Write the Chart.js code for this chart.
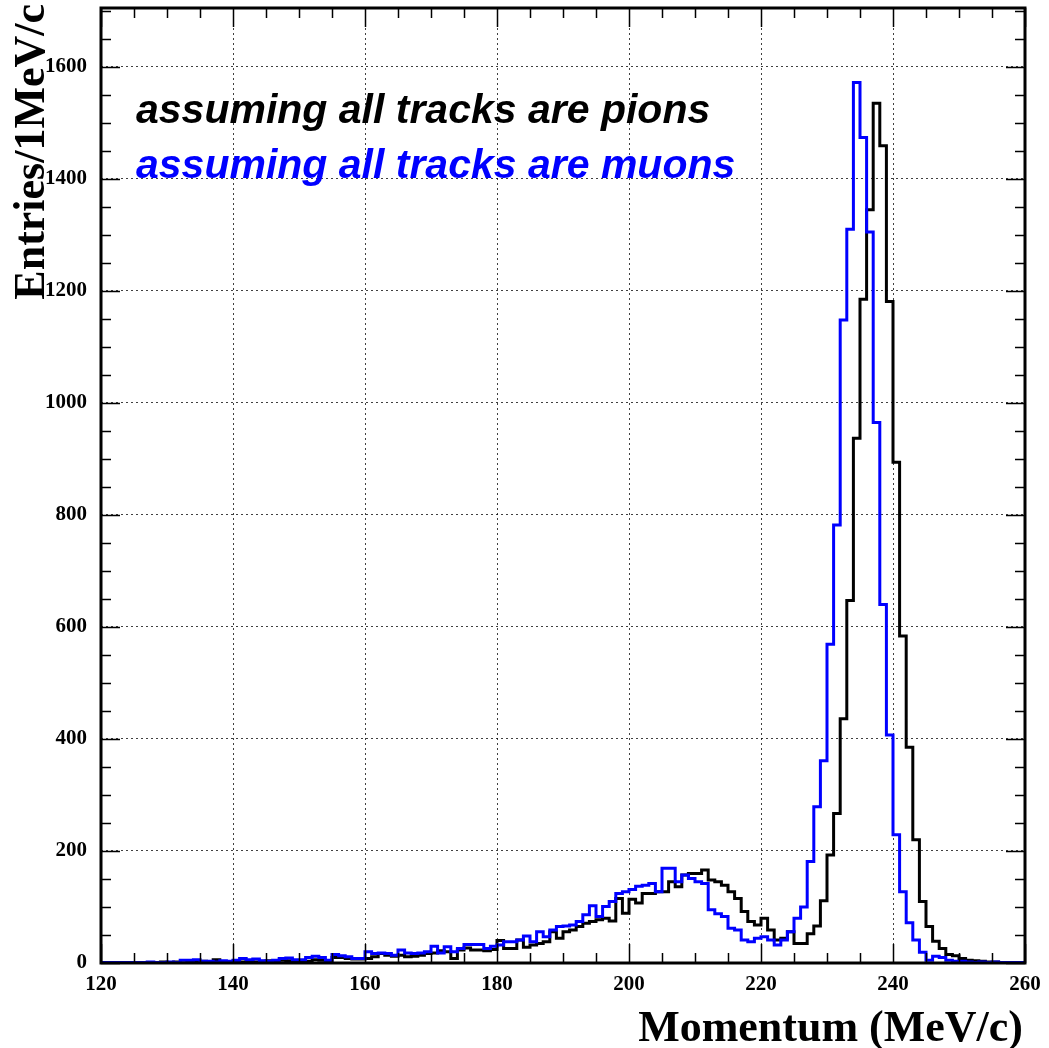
<!DOCTYPE html>
<html>
<head>
<meta charset="utf-8">
<script src="https://cdn.jsdelivr.net/npm/chart.js@4.4.1/dist/chart.umd.min.js"></script>
<style>
  html, body { margin: 0; padding: 0; background: #fff; }
</style>
</head>
<body>
<canvas id="myChart" width="1049" height="1048"></canvas>
<script>
// histogram binning (1 MeV/c bins)
const binLow = 120;
const binHigh = 260;

// tick labels
const xTicks = [120, 140, 160, 180, 200, 220, 240, 260];
const yTicks = [0, 200, 400, 600, 800, 1000, 1200, 1400, 1600];
const yMax = 1705;

const seriesLabels = ["assuming all tracks are pions", "assuming all tracks are muons"];

// entries per bin, 120..259
const pionCounts = [
  1, 1, 0, 1, 1, 1, 1, 1, 1, 2,
  1, 2, 0, 1, 2, 3, 2, 6, 2, 1,
  3, 2, 3, 2, 3, 4, 3, 5, 4, 2,
  3, 3, 6, 5, 4, 10, 10, 8, 7, 7,
  8, 11, 17, 14, 12, 14, 11, 12, 14, 17,
  18, 22, 20, 8, 23, 27, 23, 23, 22, 24,
  40, 26, 26, 41, 28, 32, 35, 38, 56, 44,
  56, 59, 65, 71, 74, 77, 80, 75, 115, 89,
  114, 107, 124, 124, 127, 127, 145, 136, 157, 160,
  160, 166, 148, 145, 139, 127, 115, 92, 74, 68,
  80, 59, 41, 44, 56, 35, 35, 52, 66, 111,
  193, 267, 436, 647, 937, 1185, 1345, 1535, 1459, 1181,
  894, 584, 385, 220, 110, 65, 39, 26, 15, 13,
  8, 5, 4, 3, 2, 2, 1, 1, 1, 1
];

const muonCounts = [
  1, 1, 1, 1, 1, 1, 1, 2, 1, 1,
  2, 1, 5, 5, 6, 3, 3, 2, 4, 3,
  5, 8, 6, 7, 4, 3, 5, 8, 9, 6,
  6, 10, 12, 10, 5, 15, 13, 11, 8, 8,
  20, 17, 18, 17, 14, 23, 18, 17, 18, 20,
  30, 18, 29, 20, 26, 33, 33, 33, 26, 30,
  32, 38, 38, 41, 48, 38, 56, 47, 59, 65,
  66, 68, 74, 86, 102, 83, 101, 110, 124, 127,
  131, 137, 139, 142, 127, 169, 169, 145, 157, 151,
  145, 142, 95, 88, 83, 62, 59, 41, 38, 44,
  47, 41, 32, 41, 56, 80, 100, 181, 279, 361,
  569, 782, 1148, 1310, 1572, 1474, 1305, 965, 640, 407,
  229, 127, 72, 41, 19, 5, 12, 10, 5, 3,
  3, 2, 1, 2, 1, 2, 1, 1, 1, 1
];

// step points at lower bin edges, closed at the upper edge
function toSteps(counts) {
  const pts = counts.map((c, i) => ({ x: binLow + i, y: c }));
  pts.push({ x: binHigh, y: counts[counts.length - 1] });
  return pts;
}

const serif = "'Liberation Serif', 'Times New Roman', serif";

// frame, inward ticks, axis titles and the two text labels
const rootFrame = {
  id: "rootFrame",
  afterDraw(chart) {
    const { ctx, chartArea: a, scales: { x, y } } = chart;
    ctx.save();
    ctx.strokeStyle = "#000";
    ctx.lineWidth = 1.5;
    ctx.beginPath();
    for (let v = 0; v <= yMax; v += 50) {
      const py = Math.round(y.getPixelForValue(v)) + 0.5;
      const len = v % 200 === 0 ? 19 : 10;
      ctx.moveTo(a.left, py); ctx.lineTo(a.left + len, py);
      ctx.moveTo(a.right, py); ctx.lineTo(a.right - len, py);
    }
    for (let v = binLow; v <= binHigh; v += 5) {
      const px = Math.round(x.getPixelForValue(v)) + 0.5;
      const len = v % 20 === 0 ? 19 : 10;
      ctx.moveTo(px, a.bottom); ctx.lineTo(px, a.bottom - len);
      ctx.moveTo(px, a.top); ctx.lineTo(px, a.top + len);
    }
    ctx.stroke();

    ctx.lineWidth = 3;
    ctx.strokeRect(a.left, a.top, a.right - a.left, a.bottom - a.top);

    ctx.fillStyle = "#000";
    ctx.font = "bold 44px " + serif;
    ctx.textAlign = "right";
    ctx.textBaseline = "alphabetic";
    ctx.fillText("Momentum (MeV/c)", 1023, 1041);

    ctx.save();
    ctx.translate(44, 4);
    ctx.rotate(-Math.PI / 2);
    ctx.fillText("Entries/1MeV/c", 0, 0);
    ctx.restore();

    ctx.textAlign = "left";
    ctx.font = "italic bold 41px 'Liberation Sans', Arial, sans-serif";
    ctx.fillStyle = "#000";
    ctx.fillText(seriesLabels[0], 136, 123);
    ctx.fillStyle = "#0000ff";
    ctx.fillText(seriesLabels[1], 136, 178);
    ctx.restore();
  }
};

const config = {
  type: "line",
  data: {
    datasets: [
      {
        label: seriesLabels[1],
        data: toSteps(muonCounts),
        borderColor: "#0000ff",
        order: 1
      },
      {
        label: seriesLabels[0],
        data: toSteps(pionCounts),
        borderColor: "#000000",
        order: 2
      }
    ]
  },
  options: {
    responsive: false,
    animation: false,
    layout: { padding: { top: 8, right: 24, left: 0, bottom: 0 } },
    elements: {
      line: { stepped: true, borderWidth: 3, fill: false, tension: 0, borderJoinStyle: "miter" },
      point: { radius: 0, hoverRadius: 0 }
    },
    plugins: {
      legend: { display: false },
      tooltip: { enabled: false }
    },
    scales: {
      x: {
        type: "linear",
        min: binLow,
        max: binHigh,
        afterBuildTicks: (s) => { s.ticks = xTicks.map((v) => ({ value: v })); },
        afterFit: (s) => { s.height = 85; s.paddingLeft = 0; s.paddingRight = 0; },
        grid: { color: "rgba(0,0,0,0.75)", lineWidth: 1, drawTicks: false },
        border: { display: false, dash: [2, 3] },
        ticks: {
          padding: 9,
          color: "#000",
          maxRotation: 0,
          font: { family: serif, weight: "bold", size: 21 },
          callback: (v) => String(v)
        }
      },
      y: {
        min: 0,
        max: yMax,
        afterBuildTicks: (s) => { s.ticks = yTicks.map((v) => ({ value: v })); },
        afterFit: (s) => { s.width = 101; s.paddingTop = 0; s.paddingBottom = 0; },
        grid: { color: "rgba(0,0,0,0.75)", lineWidth: 1, drawTicks: false },
        border: { display: false, dash: [2, 3] },
        ticks: {
          padding: 14,
          color: "#000",
          font: { family: serif, weight: "bold", size: 21 },
          callback: (v) => String(v)
        }
      }
    }
  },
  plugins: [rootFrame]
};

const myChart = new Chart(document.getElementById("myChart"), config);
</script>
</body>
</html>
